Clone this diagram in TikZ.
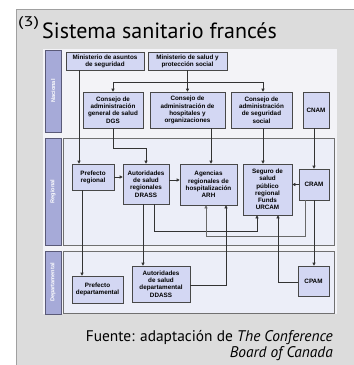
\documentclass[tikz,border=0pt]{standalone}
\usepackage{fontspec}
\setmainfont{Liberation Sans}
\newfontfamily\titlefont{PT Sans}
\usetikzlibrary{arrows.meta}
\definecolor{outerbg}{HTML}{DCDCDC}
\definecolor{outerline}{HTML}{A0A0A0}
\definecolor{innerbg}{HTML}{F3F3F7}
\definecolor{framebg}{HTML}{ECEEF8}
\definecolor{framedraw}{HTML}{707070}
\definecolor{boxfill}{HTML}{D3D7F3}
\definecolor{boxdraw}{HTML}{484848}
\definecolor{barfill}{HTML}{A6AAD8}
\definecolor{bardraw}{HTML}{5A5A78}
\definecolor{lineclr}{HTML}{333333}
\tikzset{
  box/.style={draw=boxdraw, fill=boxfill, line width=0.6pt, inner sep=0pt, align=center,
    font=\bfseries\fontsize{6.3}{7.2}\selectfont},
  bar/.style={draw=bardraw, fill=barfill, line width=0.6pt, inner sep=0pt, rotate=90,
    minimum height=16pt, text=white, font=\bfseries\fontsize{5.6}{6}\selectfont},
  frame/.style={draw=framedraw, fill=framebg, line width=0.6pt},
  conn/.style={draw=lineclr, line width=0.6pt},
  arr/.style={conn, -{Triangle[length=3pt,width=3pt]}},
  garr/.style={arr, draw=gray!70!lineclr}
}
\begin{document}
\begin{tikzpicture}[x=1pt,y=-1pt]
\useasboundingbox (0,0) rectangle (354,365);
\fill[white] (0,0) rectangle (354,365);
\fill[outerbg] (16,9) rectangle (354,365);
\draw[outerline, line width=0.8pt] (16,365) -- (16,9) -- (354,9);
% title
\node[anchor=base west, inner sep=0pt, font=\titlefont\fontsize{14}{14}\selectfont] (sup) at (18,26) {\scalebox{1.35}[1]{(3)}};
\node[anchor=base west, inner sep=0pt, font=\titlefont\fontsize{22}{22}\selectfont] (title) at (42,38) {Sistema sanitario francés};
% inner panel
\fill[innerbg] (43,49) rectangle (337,314);
\draw[frame] (63,138) rectangle (334,245);
\draw[frame] (63,251) rectangle (334,313);
% level bars
\node[bar, minimum width=82pt] (bnac) at (53,91) {Nacional};
\node[bar, minimum width=107pt] (breg) at (53,191.5) {Regional};
\node[bar, minimum width=63pt] (bdep) at (53,282.5) {Departamental};
% boxes
\node[box, minimum width=78pt, minimum height=18pt] (mas) at (105,61) {Ministerio de asuntos\\de seguridad};
\node[box, minimum width=79pt, minimum height=18pt] (mss) at (187.5,61) {Ministerio de salud y\\protección social};
\node[box, minimum width=60pt, minimum height=36pt] (dgs) at (113,110) {Consejo de\\administración\\general de salud\\DGS};
\node[box, minimum width=75pt, minimum height=36pt] (hosp) at (187.5,110) {Consejo de\\administración de\\hospitales y\\organizaciones};
\node[box, minimum width=61pt, minimum height=36pt] (segs) at (261.5,110) {Consejo de\\administración\\de seguridad\\social};
\node[box, minimum width=26pt, minimum height=36pt] (cnam) at (316,110) {CNAM};
\node[box, minimum width=42pt, minimum height=26pt] (prefr) at (93,177) {Prefecto\\regional};
\node[box, minimum width=46pt, minimum height=40pt] (drass) at (146,184) {Autoridades\\de salud\\regionales\\DRASS};
\node[box, minimum width=57pt, minimum height=41pt] (arh) at (208.5,184.5) {Agencias\\regionales de\\hospitalización\\ARH};
\node[box, minimum width=49pt, minimum height=51pt] (urcam) at (267.5,189.5) {Seguro de\\salud\\público\\regional\\Funds\\URCAM};
\node[box, minimum width=30pt, minimum height=31pt] (cram) at (314,184.5) {CRAM};
\node[box, minimum width=51pt, minimum height=27pt] (prefd) at (97.5,289.5) {Prefecto\\departamental};
\node[box, minimum width=58pt, minimum height=36pt] (ddass) at (161,284) {Autoridades\\de salud\\departamental\\DDASS};
\node[box, minimum width=31pt, minimum height=30pt] (cpam) at (313.5,281) {CPAM};
% helper coordinates
\coordinate (j) at (187.5,82);
\coordinate (xa) at (79,0);
\coordinate (xh) at (211,0);
\coordinate (xs) at (263,0);
\coordinate (yda) at (0,180);
\coordinate (xp) at (82,0);
\coordinate (xd) at (143,0);
\coordinate (xdu) at (154,0);
\coordinate (bdu) at (257,231);
\coordinate (xca) at (305,0);
\coordinate (bca) at (206,236);
\coordinate (ydd) at (0,285);
\coordinate (bda) at (226,285);
\coordinate (ycp) at (0,282);
\coordinate (bcp) at (278,282);
% connectors
\draw[conn] (mss.south) -- (j);
\draw[arr] (j) -| (dgs.north);
\draw[arr] (j) -| (segs.north -| xs);
\draw[arr] (j) -- (hosp.north);
\draw[arr] (mas.south -| xa) -- (prefr.north -| xa);
\draw[arr] (dgs.south) -- ++(0,20) -| (drass.north);
\draw[arr] (hosp.south -| xh) -- (arh.north -| xh);
\draw[arr] (segs.south -| xs) -- (urcam.north -| xs);
\draw[arr] (cnam.south -| cram.north) -- (cram.north);
\draw[arr] (prefr.east) -- (prefr.east -| drass.west);
\draw[arr] (drass.east |- yda) -- (arh.west |- yda);
\draw[arr] (cram.west) -- (cram.west -| urcam.east);
\draw[arr] (prefr.south -| xp) -- (prefd.north -| xp);
\draw[arr] (drass.south -| xd) -- (ddass.north -| xd);
\draw[arr] (drass.south -| xdu) |- (bdu) -- (urcam.south -| bdu);
\draw[garr] (cram.south -| xca) |- (bca) -- (arh.south -| bca);
\draw[arr] (ddass.east |- ydd) -- (bda) -- (arh.south -| bda);
\draw[arr] (cpam.west |- ycp) -- (bcp) -- (urcam.south -| bcp);
\draw[arr] (cram.south) -- (cpam.north -| cram.south);
% footer
\node[anchor=base east, inner sep=0pt, font=\titlefont\fontsize{15.4}{15.4}\selectfont] (src1) at (333,341) {Fuente: adaptación de \textit{The Conference}};
\node[anchor=base east, inner sep=0pt, font=\titlefont\fontsize{15.4}{15.4}\selectfont] (src2) at (333,357) {\textit{Board of Canada}};
\end{tikzpicture}
\end{document}
